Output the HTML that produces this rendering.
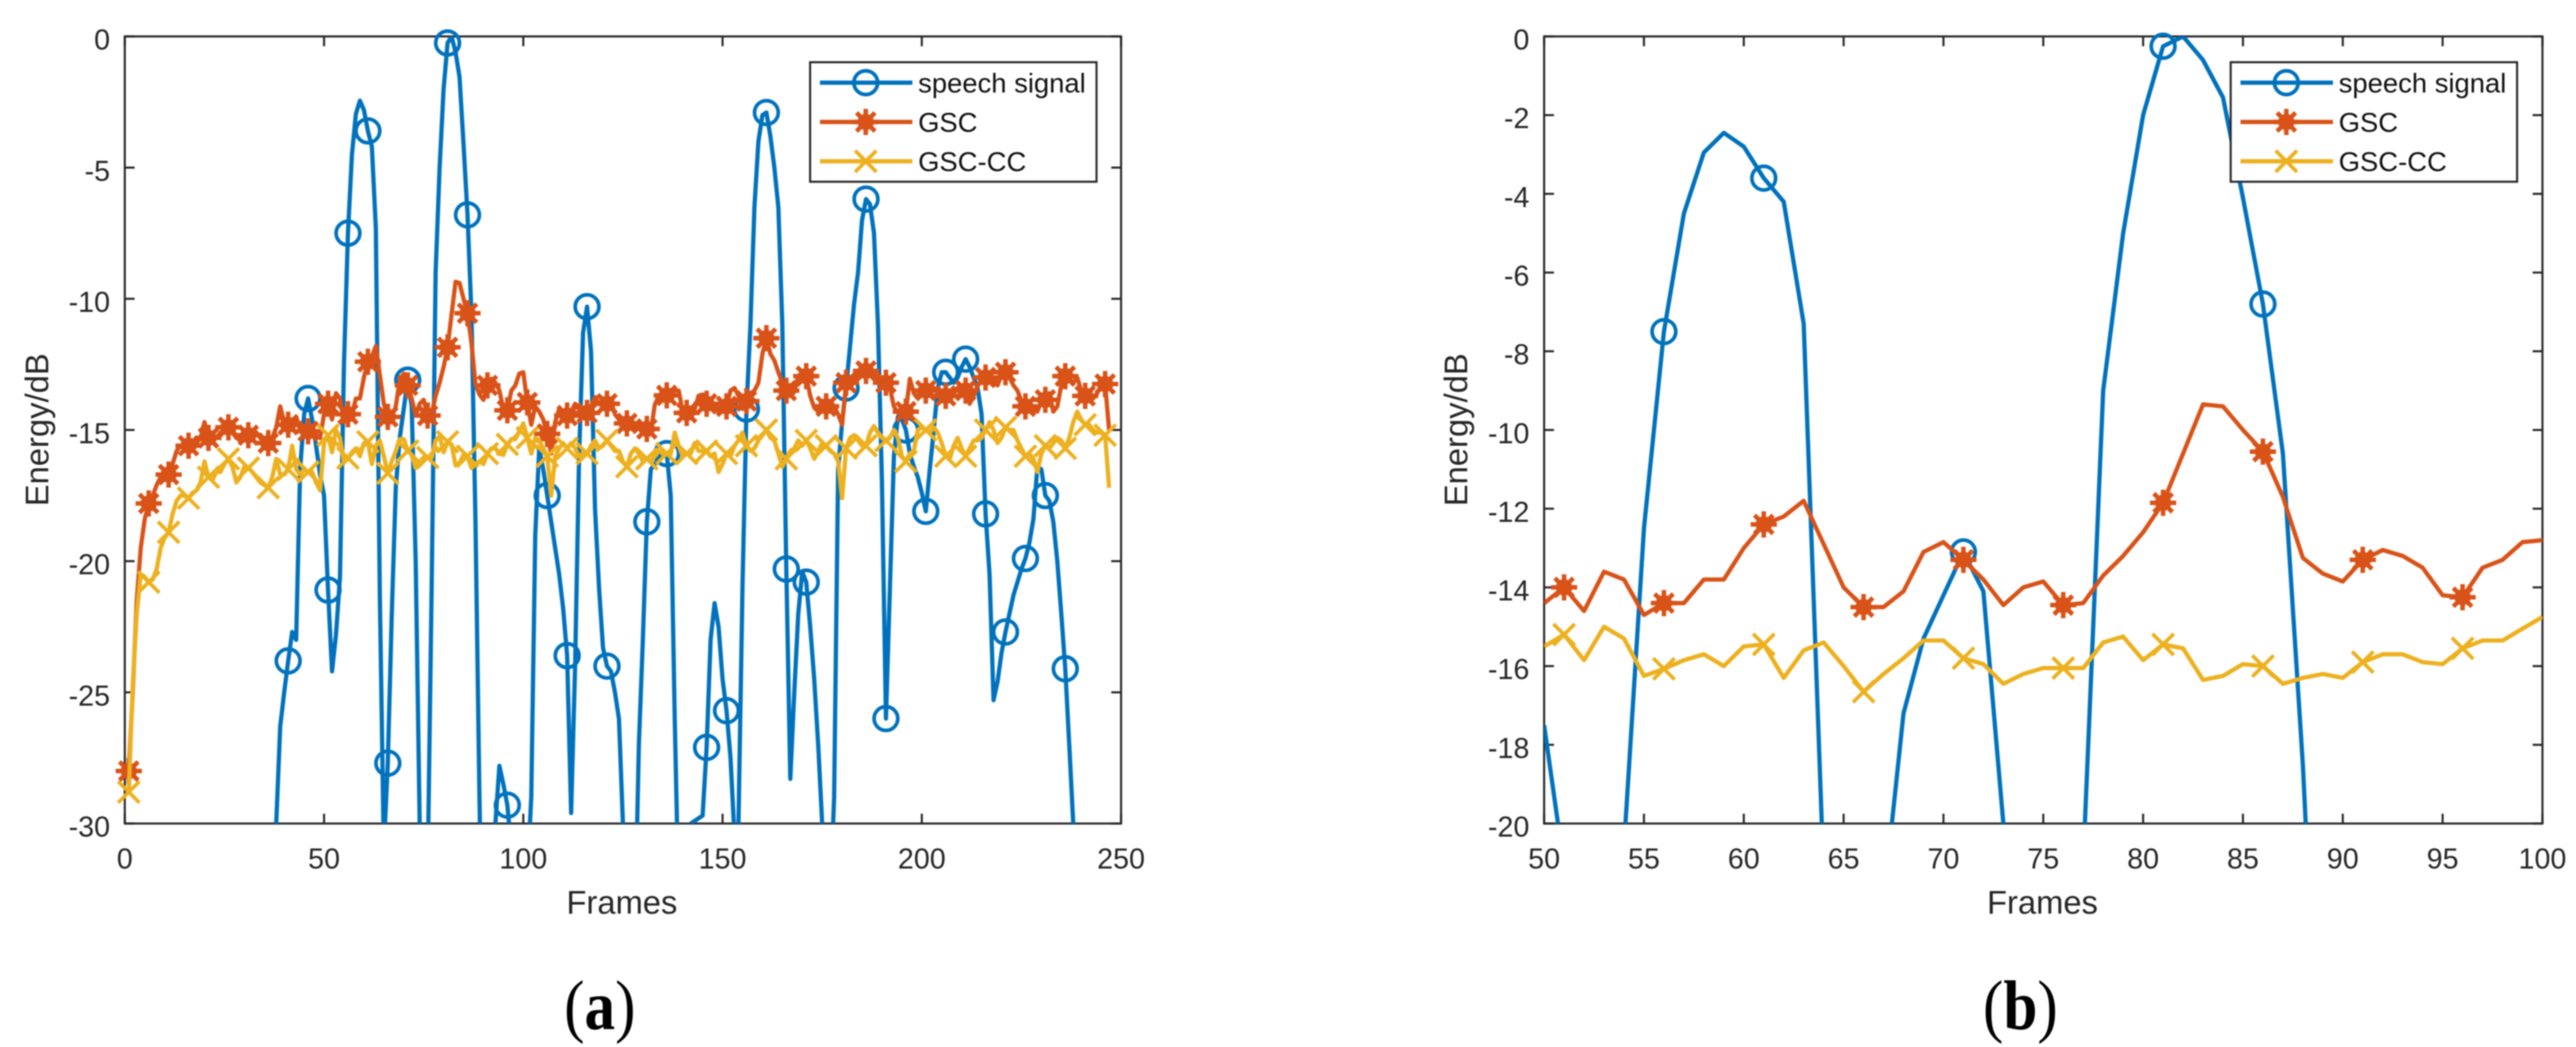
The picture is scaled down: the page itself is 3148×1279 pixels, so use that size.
<!DOCTYPE html>
<html lang="en">
<head>
<meta charset="utf-8">
<title>Energy per frame: speech signal, GSC and GSC-CC</title>
<style>
  html, body { margin: 0; padding: 0; background: #fff; width: 3148px; height: 1279px; overflow: hidden; }
  #figure { display: block; width: 3148px; height: 1279px; overflow: hidden; }
  #figure-content { filter: blur(0.9px); }
  text { font-family: "Liberation Sans", sans-serif; fill: #262626; }
</style>
</head>
<body>
<svg id="figure" xmlns="http://www.w3.org/2000/svg" width="3148" height="1279" viewBox="0 0 3148 1279"><g id="figure-content"></g></svg>
<script>
const speechValues = [
  -40,-40,-40,-40,-40,-40,-40,-40,-40,-40,
  -40,-40,-40,-40,-40,-40,-40,-40,-40,-40,
  -40,-40,-40,-40,-40,-40,-40,-40,-40,-40,
  -40,-40,-40,-40,-40,-40,-36,-30,-26.3,-25,
  -23.8,-22.7,-23,-16.5,-14.4,-13.8,-14.6,-15.6,-16.7,-17.5,
  -21.1,-24.2,-22.8,-20.6,-12.5,-7.5,-4.5,-2.95,-2.45,-2.8,
  -3.6,-4.2,-7.3,-21.3,-31,-27.7,-22,-17.2,-15.3,-14.2,
  -13.1,-14.1,-20,-30,-35,-32,-21,-9,-5,-2,
  -0.25,0,-0.6,-1.55,-4.1,-6.8,-10.6,-18.5,-29,-38,
  -36,-34,-30,-27.8,-28.5,-29.3,-31,-35,-38,-36,
  -32,-29,-19,-15.7,-16.5,-17.5,-18.5,-19.5,-20.5,-21.8,
  -23.6,-29.6,-24,-16,-11.3,-10.3,-12,-18,-21,-23.3,
  -24,-24.2,-25,-26,-30,-34,-38,-34,-27,-23,
  -18.5,-16.5,-16.3,-16.1,-15.8,-15.9,-17.5,-26,-33,-38,
  -36,-30,-29.9,-29.8,-29.7,-27.1,-23,-21.6,-22.5,-24.5,
  -25.7,-27.5,-30.5,-30,-21,-14.2,-11,-6.5,-4,-3,
  -2.9,-3.8,-5,-6.5,-11,-20.3,-28.3,-25,-22,-20.4,
  -20.8,-22.5,-24.5,-27,-30,-36,-33,-29,-16.5,-14.7,
  -13.4,-11.8,-10.2,-9,-7,-6.2,-6.4,-7.5,-11,-17,
  -26,-21,-16,-14.5,-14.6,-15,-15.9,-16.4,-16.8,-17.4,
  -18.1,-16.5,-15,-13.4,-12.8,-12.8,-13,-13.2,-13,-12.6,
  -12.3,-12.6,-13,-13.4,-14.4,-18.2,-20.5,-25.3,-24.6,-23.5,
  -22.7,-22,-21.3,-20.8,-20.3,-19.9,-19.3,-18.4,-16.4,-16.5,
  -17.5,-17.7,-18.5,-20,-22,-24.1,-27,-30,-33,-36,
  -38,-38,-38,-38,-38,-38,-38
];
const gscValues = [
  -28,-25,-21.5,-19.5,-18.4,-17.8,-17.5,-17.1,-16.8,-16.8,
  -16.7,-16.3,-15.8,-15.6,-15.6,-15.6,-15.5,-15.5,-15.3,-14.7,
  -15.3,-15.4,-15.3,-15.1,-15,-14.9,-15.1,-15.3,-15.4,-15.1,
  -15.2,-15,-15.1,-15.3,-15.5,-15.5,-15.3,-14.9,-14.1,-14.7,
  -14.8,-14.9,-14.5,-15,-15,-15.05,-15.1,-15.2,-15.3,-14.4,
  -14,-14.6,-13.6,-13.8,-14.7,-14.4,-14.4,-13.8,-13.8,-13,
  -12.4,-12.2,-11.8,-12.9,-14,-14.5,-14.5,-14.1,-13.1,-12.85,
  -13.3,-13.8,-14.45,-14,-13.85,-14.45,-14.4,-13.7,-13.2,-12.6,
  -11.85,-10.6,-9.35,-9.4,-10,-10.55,-11.7,-13.25,-13.65,-13.85,
  -13.3,-13.05,-13.2,-13.5,-14.2,-14.25,-13.5,-13.3,-12.85,-12.8,
  -13.95,-14.8,-14.1,-14.3,-14.6,-15.15,-15.9,-14.7,-14.2,-14.4,
  -14.45,-14.3,-14,-14.2,-14.3,-14.35,-14.1,-13.75,-14,-13.9,
  -14,-13.9,-14.4,-14.6,-14.7,-14.75,-14.7,-14.8,-14.9,-14.8,
  -14.96,-15.05,-14.04,-13.7,-13.7,-13.68,-13.7,-13.5,-13.5,-14.3,
  -14.35,-14.5,-14.2,-13.7,-13.65,-14,-14,-14.1,-14.3,-14.3,
  -14.1,-13.5,-13.4,-13.7,-14.2,-13.9,-13.6,-13.5,-13.2,-12.1,
  -11.5,-12.1,-12.35,-12.8,-13.2,-13.5,-13.7,-13.55,-12.95,-12.8,
  -12.95,-13.7,-14.15,-14.3,-13.9,-14.1,-13.9,-14.1,-14.4,-14.8,
  -13.2,-13.3,-13.2,-12.75,-12.6,-12.75,-12.9,-12.85,-13.1,-13.2,
  -13.2,-13.4,-14.1,-14.35,-14.4,-14.3,-13.05,-13.6,-13.8,-13.3,
  -13.5,-13.6,-13.4,-13.55,-13.6,-13.7,-13.9,-13.6,-13.4,-13.3,
  -13.5,-14,-13.7,-13.3,-13.1,-13,-13.2,-13.1,-13.3,-12.9,
  -12.8,-13,-13.3,-13.5,-13.9,-14.1,-14.1,-14.2,-14.3,-13.9,
  -13.85,-13.6,-14.3,-14.1,-13.3,-12.95,-13.1,-13.2,-13,-13.5,
  -13.7,-13.5,-13.8,-13.6,-13.3,-13.25,-15
];
const gscCcValues = [
  -28.8,-24.7,-22,-20.5,-20.6,-20.8,-20.7,-20.3,-19.5,-19.1,
  -18.9,-18.2,-17.7,-17.5,-17.5,-17.6,-17.4,-17.3,-17,-16.2,
  -16.8,-16.9,-16.6,-16.6,-16.3,-16.1,-16.4,-17,-16.8,-16.4,
  -16.45,-16.6,-16.8,-17,-17.1,-17.2,-16.8,-16.1,-16.7,-16.7,
  -16.5,-15.6,-16.5,-16.7,-16.5,-16.6,-16.6,-17,-17.3,-15.5,
  -15.2,-15.85,-15,-15.3,-16.25,-16.07,-15.85,-15.7,-16,-15.5,
  -15.45,-16.3,-15.6,-15.4,-16,-16.65,-16.2,-15.8,-15.35,-15.35,
  -15.8,-15.95,-16.45,-16.2,-16.05,-16.05,-16.05,-15.4,-15.25,-15.85,
  -15.45,-15.55,-16.35,-16.25,-15.95,-16,-16.45,-16.3,-16.2,-16.3,
  -15.9,-15.7,-15.7,-15.9,-15.95,-15.55,-15.35,-15.35,-15.05,-14.75,
  -15.3,-15.9,-15.3,-15.4,-15.7,-16,-17.5,-16,-15.7,-15.5,
  -15.7,-15.5,-15.7,-16,-15.9,-15.9,-15.6,-15.4,-15.7,-15.6,
  -15.4,-15.6,-15.8,-15.8,-16.2,-16.4,-15.9,-15.7,-15.9,-16.2,
  -16.1,-16.2,-16,-15.8,-15.9,-15.9,-15.9,-15.1,-15.6,-16,
  -15.9,-15.9,-15.5,-15.8,-15.8,-15.8,-16,-15.9,-16.6,-16.3,
  -15.9,-16,-15.6,-15.4,-15.1,-15.6,-15.8,-15.7,-15.4,-15.2,
  -15,-15.3,-15.4,-15.9,-16.4,-16.1,-15.8,-15.7,-15.4,-15.6,
  -15.4,-15.7,-16.1,-15.8,-15.5,-15.6,-15.8,-15.9,-16.2,-17.6,
  -15.7,-15.3,-15.2,-15.4,-15.6,-15.6,-15.1,-14.85,-15.1,-15.3,
  -15.4,-15.3,-15,-15.3,-16,-16.2,-15.9,-15.8,-15,-14.9,
  -15,-15.1,-14.9,-15.1,-15.5,-16,-16.1,-15.6,-15.3,-15.7,
  -16,-15.7,-15.4,-15.4,-15.3,-15,-14.7,-15,-15.5,-15.3,
  -14.9,-15,-15,-15.4,-15.7,-16,-15.9,-16.1,-16.6,-15.9,
  -15.6,-15.7,-15.5,-15.3,-15.4,-15.7,-15.3,-14.7,-14.3,-14.6,
  -14.8,-14.8,-15,-15.1,-15.1,-15.2,-17.2
];
const panelAXTicks = [0, 50, 100, 150, 200, 250];
const panelAYTicks = [0, -5, -10, -15, -20, -25, -30];
const panelBXTicks = [50, 55, 60, 65, 70, 75, 80, 85, 90, 95, 100];
const panelBYTicks = [0, -2, -4, -6, -8, -10, -12, -14, -16, -18, -20];
const legendLabels = ['speech signal', 'GSC', 'GSC-CC'];

const SVG_NS = 'http://www.w3.org/2000/svg';
const figure = document.getElementById('figure-content');
const AXIS_COLOR = '#262626';
const COLORS = ['#0072BD', '#D95319', '#EDB120'];
const SERIES_NAMES = ['speech-signal', 'gsc', 'gsc-cc'];
const SERIES_VALUES = [speechValues, gscValues, gscCcValues];

function make(tag, attrs, parent) {
  const el = document.createElementNS(SVG_NS, tag);
  for (const k in attrs) el.setAttribute(k, attrs[k]);
  parent.appendChild(el);
  return el;
}

function drawMarker(kind, cx, cy, color, parent) {
  const g = make('g', { stroke: color, 'stroke-width': 4.5, fill: 'none', 'stroke-linecap': 'butt' }, parent);
  if (kind === 0) {
    make('circle', { cx: cx, cy: cy, r: 14.5 }, g);
  } else if (kind === 1) {
    const r = 16;
    for (let a = 0; a < 4; a++) {
      const t = a * Math.PI / 4;
      make('line', { x1: cx - r * Math.cos(t), y1: cy - r * Math.sin(t), x2: cx + r * Math.cos(t), y2: cy + r * Math.sin(t), 'stroke-width': 5.5 }, g);
    }
    make('circle', { cx: cx, cy: cy, r: 10, fill: color, stroke: 'none' }, g);
  } else {
    const r = 13;
    make('line', { x1: cx - r, y1: cy - r, x2: cx + r, y2: cy + r }, g);
    make('line', { x1: cx - r, y1: cy + r, x2: cx + r, y2: cy - r }, g);
  }
  return g;
}

/* Clip a segment to the axis limits in data space, so off-scale values
   stay in the series but draw nothing outside the plot area. */
function clipSegment(x1, y1, x2, y2, xMin, xMax, yMin, yMax) {
  let t0 = 0, t1 = 1;
  const dx = x2 - x1, dy = y2 - y1;
  const tests = [[-dx, x1 - xMin], [dx, xMax - x1], [-dy, y1 - yMin], [dy, yMax - y1]];
  for (const [p, q] of tests) {
    if (p === 0) {
      if (q < 0) return null;
    } else {
      const r = q / p;
      if (p < 0) { if (r > t1) return null; if (r > t0) t0 = r; }
      else { if (r < t0) return null; if (r < t1) t1 = r; }
    }
  }
  return [x1 + t0 * dx, y1 + t0 * dy, x1 + t1 * dx, y1 + t1 * dy, t0 === 0];
}

function seriesPath(values, p, sx, sy) {
  let d = '';
  let joined = false;
  for (let i = 0; i + 1 < values.length; i++) {
    const seg = clipSegment(i + 1, values[i], i + 2, values[i + 1], p.xMin, p.xMax, p.yMin, p.yMax + 0.2);
    if (!seg) { joined = false; continue; }
    if (!joined || !seg[4]) d += 'M' + sx(seg[0]).toFixed(2) + ' ' + sy(seg[1]).toFixed(2);
    d += 'L' + sx(seg[2]).toFixed(2) + ' ' + sy(seg[3]).toFixed(2);
    joined = true;
  }
  return d;
}

function drawPanel(p) {
  const sx = v => p.left + (v - p.xMin) / (p.xMax - p.xMin) * (p.right - p.left);
  const sy = v => p.top + (p.yMax - v) / (p.yMax - p.yMin) * (p.bottom - p.top);

  const panel = make('g', {}, figure);
  
  

  const clip = make('clipPath', { id: p.name + '-clip' }, panel);
  make('rect', { x: p.left, y: p.top, width: p.right - p.left, height: p.bottom - p.top }, clip);

  const frame = make('rect', { x: p.left, y: p.top, width: p.right - p.left, height: p.bottom - p.top, fill: '#fff', stroke: AXIS_COLOR, 'stroke-width': 2.5 }, panel);
  
  

  p.xTicks.forEach(v => {
    const x = sx(v);
    const bottomTick = make('line', { x1: x, x2: x, y1: p.bottom, y2: p.bottom - 12, stroke: AXIS_COLOR, 'stroke-width': 2.5 }, panel);
    
    
    const topTick = make('line', { x1: x, x2: x, y1: p.top, y2: p.top + 12, stroke: AXIS_COLOR, 'stroke-width': 2.5 }, panel);
    
    
    const label = make('text', { x: x, y: p.bottom + 55, 'text-anchor': 'middle', 'font-size': 35 }, panel);
    label.textContent = String(v);
    
    
  });

  p.yTicks.forEach(v => {
    const y = sy(v);
    const leftTick = make('line', { x1: p.left, x2: p.left + 12, y1: y, y2: y, stroke: AXIS_COLOR, 'stroke-width': 2.5 }, panel);
    
    
    const rightTick = make('line', { x1: p.right, x2: p.right - 12, y1: y, y2: y, stroke: AXIS_COLOR, 'stroke-width': 2.5 }, panel);
    
    
    const label = make('text', { x: p.left - 18, y: y + 16, 'text-anchor': 'end', 'font-size': 35 }, panel);
    label.textContent = String(v);
    
    
  });

  const xTitle = make('text', { x: p.xTitleX, y: 1116, 'text-anchor': 'middle', 'font-size': 40 }, panel);
  xTitle.textContent = 'Frames';
  
  

  const yTitle = make('text', { x: 0, y: 0, 'text-anchor': 'middle', 'font-size': 40, transform: 'translate(' + p.yTitleX + ',525) rotate(-90)' }, panel);
  yTitle.textContent = 'Energy/dB';
  
  

  SERIES_VALUES.forEach((values, s) => {
    const group = make('g', {}, panel);
    
    
    const line = make('path', { d: seriesPath(values, p, sx, sy), fill: 'none', stroke: COLORS[s], 'stroke-width': 5.2, 'stroke-linejoin': 'round', 'clip-path': 'url(#' + p.name + '-clip)' }, group);
    
    
    values.forEach((v, i) => {
      if (i % 5 !== 0) return;
      const f = i + 1;
      if (f < p.xMin || f > p.xMax || v < p.yMin || v > p.yMax) return;
      const marker = drawMarker(s, sx(f), sy(v), COLORS[s], group);
      
      
    });
  });

  const legend = make('g', {}, panel);
  
  
  make('rect', { x: p.legendX, y: 76, width: 350, height: 146, fill: '#fff', stroke: AXIS_COLOR, 'stroke-width': 2.5 }, legend);
  legendLabels.forEach((name, s) => {
    const y = 101 + s * 48;
    const entry = make('g', {}, legend);
    
    
    make('line', { x1: p.legendX + 12, x2: p.legendX + 125, y1: y, y2: y, stroke: COLORS[s], 'stroke-width': 5.2 }, entry);
    drawMarker(s, p.legendX + 68, y, COLORS[s], entry);
    const label = make('text', { x: p.legendX + 132, y: y + 12, 'font-size': 33.5, style: 'fill:#111' }, entry);
    label.textContent = name;
  });

  const caption = make('text', { x: 0, y: 0, 'text-anchor': 'middle', 'font-size': 86, transform: 'translate(' + p.captionX + ',1257) scale(0.87,1)', style: 'font-family:"Liberation Serif",serif;fill:#000' }, panel);
  
  
  caption.appendChild(document.createTextNode('('));
  const letter = make('tspan', { 'font-weight': 'bold' }, caption);
  letter.textContent = p.letter;
  caption.appendChild(document.createTextNode(')'));
}

drawPanel({
  name: 'panel-a', letter: 'a',
  left: 152.5, right: 1370, top: 44.5, bottom: 1006,
  xMin: 0, xMax: 250, yMin: -30, yMax: 0,
  xTicks: panelAXTicks, yTicks: panelAYTicks,
  xTitleX: 760, yTitleX: 59, legendX: 990, captionX: 733
});
drawPanel({
  name: 'panel-b', letter: 'b',
  left: 1887, right: 3107, top: 44.5, bottom: 1006,
  xMin: 50, xMax: 100, yMin: -20, yMax: 0,
  xTicks: panelBXTicks, yTicks: panelBYTicks,
  xTitleX: 2496, yTitleX: 1793, legendX: 2726, captionX: 2469
});
</script>
</body>
</html>
